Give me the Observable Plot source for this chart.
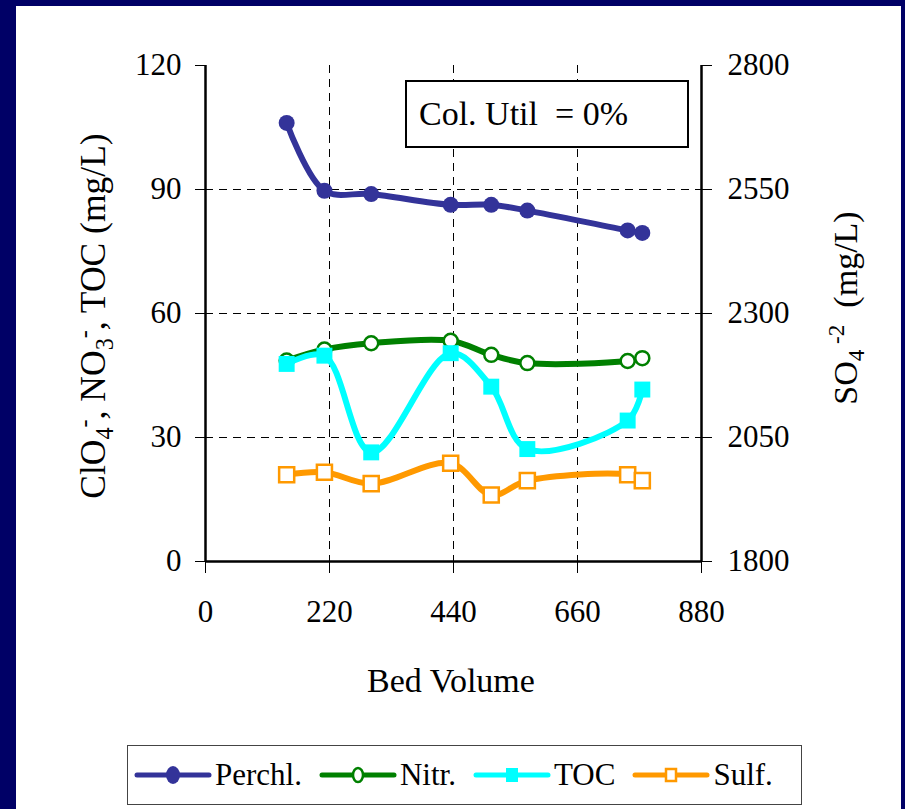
<!DOCTYPE html>
<html>
<head>
<meta charset="utf-8">
<script src="https://cdn.jsdelivr.net/npm/d3@7"></script>
<script src="https://cdn.jsdelivr.net/npm/@observablehq/plot@0.6"></script>
<style>
  html, body { margin: 0; padding: 0; background: #000066; }
  #frame { position: relative; width: 905px; height: 809px; background: #000066; overflow: hidden; }
  #panel { position: absolute; left: 16px; top: 6px; width: 885px; height: 803px; background: white; }
  #chart { position: absolute; left: 0; top: 0; }
  #note { position: absolute; left: 389px; top: 74px; width: 268px; height: 64px; border: 2px solid black;
          font-family: 'Liberation Serif', serif; font-size: 34px; line-height: 64px; padding-left: 12px;
          white-space: pre; box-sizing: content-box; background: white; }
  #legend { position: absolute; left: 111px; top: 739px; width: 667px; height: 58px; border: 1.5px solid #444;
            display: flex; align-items: center; justify-content: flex-start; gap: 17px; padding-left: 6px;
            box-sizing: content-box;
            font-family: 'Liberation Serif', serif; font-size: 31px; }
  .item { display: flex; align-items: center; gap: 3px; }
</style>
</head>
<body>
<div id="frame"><div id="panel"><div id="chart"></div><div id="note"></div><div id="legend"></div></div></div>
<script>
// ---- data ----
const bedVolume = [144, 211, 294, 435, 507, 571, 749, 775];
const perchl = [106.1, 89.7, 88.9, 86.3, 86.3, 84.9, 80.1, 79.5];
const nitr   = [48.6, 51.3, 52.8, 53.4, 50.0, 48.0, 48.5, 49.2];
const toc    = [47.8, 49.8, 26.4, 50.4, 42.3, 27.2, 34.1, 41.6];
const sulf   = [1975, 1980, 1957, 1998, 1934, 1963, 1975, 1963];
const seriesNames = ["Perchl.", "Nitr.", "TOC", "Sulf."];
const xTicks = [0, 220, 440, 660, 880];
const yTicks = [0, 30, 60, 90, 120];
const yRightTicks = [1800, 2050, 2300, 2550, 2800];
const noteText = "Col. Util  = 0%";
const xTitle = "Bed Volume";

// right axis (sulfate) mapped onto the left scale
const rightToLeft = v => (v - 1800) * 120 / 1000;

const colors = {"Perchl.": "#333399", "Nitr.": "#008000", "TOC": "#00FFFF", "Sulf.": "#FF9900"};
const rows = s => bedVolume.map((x, i) => ({x, y: s[i]}));
const dPerchl = rows(perchl);
const dNitr = rows(nitr);
const dToc = rows(toc);
const dSulf = bedVolume.map((x, i) => ({x, y: rightToLeft(sulf[i])}));

const W = 885, H = 695;
const lineOpts = (c) => ({x: "x", y: "y", curve: "catmull-rom", stroke: c, strokeWidth: 6});
const gridStyle = {stroke: "black", strokeOpacity: 1, strokeWidth: 1, strokeDasharray: "8,6"};

const chart = Plot.plot({
  width: W, height: H,
  marginLeft: 189, marginRight: 200, marginTop: 59, marginBottom: 140,
  style: {fontFamily: "'Liberation Serif', serif", fontSize: "31px", color: "black", background: "white", overflow: "visible"},
  x: {domain: [0, 880]},
  y: {domain: [0, 120]},
  marks: [
    Plot.gridY(yTicks.filter(d => d > 0 && d < 120), gridStyle),
    Plot.gridX(xTicks.filter(d => d > 0 && d < 880), gridStyle),
    Plot.axisX(xTicks, {tickSize: 12, tickPadding: 26, label: null, tickFormat: d => String(d)}),
    Plot.axisY(yTicks, {anchor: "left", tickSize: 10, tickPadding: 14, label: null, tickFormat: d => String(d)}),
    Plot.axisY(yRightTicks.map(rightToLeft), {anchor: "right", tickSize: 10, tickPadding: 16, label: null,
      tickFormat: (d, i) => String(yRightTicks[i])}),
    Plot.ruleY([0], {stroke: "black", strokeWidth: 2.5}),
    Plot.ruleX([0, 880], {stroke: "black", strokeWidth: 2.5}),
    Plot.line(dPerchl, lineOpts(colors["Perchl."])),
    Plot.dot(dPerchl, {x: "x", y: "y", r: 8, fill: colors["Perchl."], stroke: "none"}),
    Plot.line(dNitr, lineOpts(colors["Nitr."])),
    Plot.dot(dNitr, {x: "x", y: "y", r: 7, fill: "white", stroke: colors["Nitr."], strokeWidth: 2.5}),
    Plot.line(dToc, lineOpts(colors["TOC"])),
    Plot.dot(dToc, {x: "x", y: "y", r: 9, symbol: "square", fill: colors["TOC"], stroke: "none"}),
    Plot.line(dSulf, lineOpts(colors["Sulf."])),
    Plot.dot(dSulf, {x: "x", y: "y", r: 8.5, symbol: "square", fill: "white", stroke: colors["Sulf."], strokeWidth: 2.5})
  ]
});
document.getElementById("chart").appendChild(chart);

// axis titles with sub/superscripts
const svg = d3.select(chart);
function richText(g, parts, size) {
  parts.forEach(p => {
    const t = g.append("tspan").text(p.t);
    if (p.sub) { t.attr("font-size", size * 0.68).attr("dy", size * 0.22); }
    else if (p.sup) { t.attr("font-size", size * 0.68).attr("dy", p.dy); }
    else if (p.dy) { t.attr("dy", p.dy); }
  });
}
const fs = 34;
const fsL = 35.5;
const leftTitle = svg.append("text")
  .attr("transform", "translate(89,310) rotate(-90)")
  .attr("text-anchor", "middle").attr("font-size", fsL).attr("fill", "black");
richText(leftTitle, [
  {t: "ClO"}, {t: "4", sub: true}, {t: "-", sup: true, dy: -fsL * 0.6}, {t: ", NO", dy: fsL * 0.38},
  {t: "3", sub: true}, {t: "-", sup: true, dy: -fsL * 0.6}, {t: ", TOC (mg/L)", dy: fsL * 0.38}
], fsL);

const rightTitle = svg.append("text")
  .attr("transform", "translate(841,302) rotate(-90)")
  .attr("text-anchor", "middle").attr("font-size", fs).attr("fill", "black");
richText(rightTitle, [
  {t: "SO"}, {t: "4", sub: true}, {t: " -2", sup: true, dy: -fs * 0.6}, {t: "  (mg/L)", dy: fs * 0.38}
], fs);
rightTitle.attr("xml:space", "preserve").style("white-space", "pre");

svg.append("text").attr("x", 435).attr("y", 686).attr("text-anchor", "middle")
  .attr("font-size", fs).attr("fill", "black").text(xTitle);

// annotation
document.getElementById("note").textContent = noteText;

// legend
const legend = d3.select("#legend");
const symbols = {"Perchl.": "circleFill", "Nitr.": "circleOpen", "TOC": "squareFill", "Sulf.": "squareOpen"};
seriesNames.forEach(name => {
  const it = legend.append("div").attr("class", "item");
  const s = it.append("svg").attr("width", 78).attr("height", 24);
  const c = colors[name];
  s.append("line").attr("x1", 3).attr("x2", 75).attr("y1", 12).attr("y2", 12)
    .attr("stroke", c).attr("stroke-width", 5).attr("stroke-linecap", "round");
  const k = symbols[name];
  if (k === "circleFill") s.append("ellipse").attr("cx", 39).attr("cy", 12).attr("rx", 7).attr("ry", 9).attr("fill", c);
  if (k === "circleOpen") s.append("ellipse").attr("cx", 39).attr("cy", 12).attr("rx", 5).attr("ry", 7).attr("fill", "white").attr("stroke", c).attr("stroke-width", 2.5);
  if (k === "squareFill") s.append("rect").attr("x", 33).attr("y", 5).attr("width", 12).attr("height", 14).attr("fill", c);
  if (k === "squareOpen") s.append("rect").attr("x", 34).attr("y", 6).attr("width", 10).attr("height", 12).attr("fill", "white").attr("stroke", c).attr("stroke-width", 2.5);
  it.append("span").text(name);
});
</script>
</body>
</html>
